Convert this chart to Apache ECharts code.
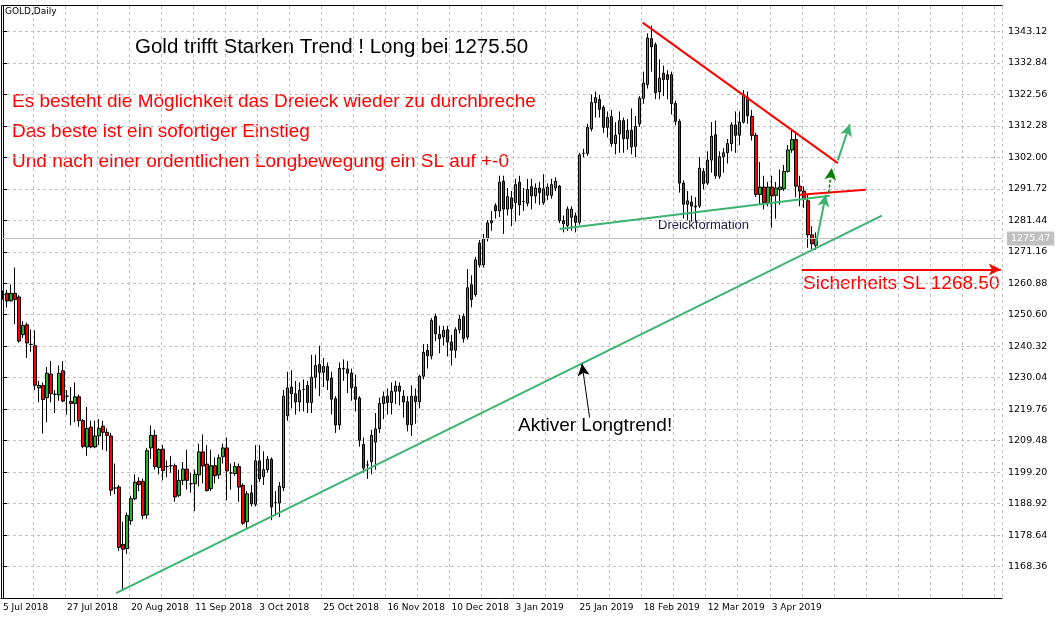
<!DOCTYPE html>
<html>
<head>
<meta charset="utf-8">
<script src="https://cdn.jsdelivr.net/npm/echarts@6/dist/echarts.min.js"></script>
<style>
  html, body { margin: 0; padding: 0; background: #fff; }
  #chart { width: 1057px; height: 622px; }
</style>
</head>
<body>
<div id="chart"></div>
<script>
// daily candles, [open, close, low, high]
const candles = [
  [1257.2,1257.2,1255.5,1258.5],[1257.6,1255.1,1253.0,1258.8],[1255.1,1257.6,1255.0,1260.5],[1257.6,1255.6,1247.5,1266.0],
  [1256.4,1242.0,1241.5,1257.0],[1244.1,1247.1,1243.0,1248.5],[1247.3,1241.4,1236.5,1248.0],[1240.9,1240.9,1238.5,1245.8],
  [1240.5,1227.6,1226.0,1245.5],[1226.7,1227.5,1222.0,1229.0],[1227.5,1222.9,1211.8,1228.5],[1223.5,1231.5,1215.5,1233.5],
  [1231.2,1224.8,1222.0,1235.5],[1224.6,1224.6,1218.5,1226.0],[1224.4,1231.5,1222.5,1234.0],[1232.3,1222.4,1222.0,1235.5],
  [1224.0,1224.0,1218.0,1226.0],[1222.3,1221.6,1214.5,1227.0],[1221.6,1223.8,1215.5,1228.5],[1223.8,1216.0,1214.0,1224.5],
  [1216.0,1207.6,1207.0,1216.5],[1207.4,1213.5,1204.5,1220.5],[1213.9,1207.4,1207.0,1216.0],[1207.4,1211.0,1207.0,1216.0],
  [1211.0,1213.5,1208.0,1216.5],[1214.2,1212.2,1206.5,1216.0],[1212.2,1211.2,1206.0,1213.5],[1211.0,1193.3,1191.5,1212.0],
  [1194.0,1194.0,1192.0,1202.0],[1194.3,1174.6,1173.5,1195.0],[1175.6,1174.0,1160.5,1183.0],[1174.2,1185.0,1172.5,1186.0],
  [1183.3,1190.5,1182.0,1191.5],[1190.5,1195.9,1190.0,1198.5],[1196.2,1195.1,1193.0,1197.5],[1196.2,1185.0,1183.8,1197.0],
  [1185.2,1206.2,1184.0,1207.0],[1207.1,1211.2,1203.5,1214.5],[1211.2,1201.0,1200.0,1213.0],[1200.7,1206.6,1198.5,1207.0],
  [1206.7,1199.7,1196.5,1208.0],[1201.0,1201.0,1197.5,1203.0],[1201.3,1201.3,1199.0,1204.5],[1201.3,1191.1,1189.5,1202.0],
  [1191.6,1196.5,1191.0,1200.0],[1196.5,1200.2,1195.0,1202.5],[1200.2,1196.5,1193.5,1206.5],[1195.4,1195.4,1192.5,1199.0],
  [1195.4,1198.5,1186.5,1200.0],[1198.3,1205.8,1194.5,1208.5],[1205.8,1201.2,1195.5,1211.5],[1201.8,1193.2,1192.8,1208.0],
  [1193.8,1201.3,1193.0,1206.5],[1201.3,1198.0,1195.5,1204.0],[1198.3,1203.9,1197.0,1205.0],[1204.2,1207.1,1202.0,1208.5],
  [1207.1,1199.6,1190.0,1210.5],[1198.9,1198.9,1193.5,1202.0],[1198.7,1201.0,1198.0,1202.5],[1201.0,1194.3,1189.5,1202.0],
  [1194.9,1182.5,1182.0,1195.5],[1183.0,1192.1,1181.0,1193.0],[1192.4,1188.9,1188.0,1195.0],[1188.7,1202.9,1188.0,1208.0],
  [1202.9,1197.0,1196.0,1208.0],[1197.7,1200.0,1195.0,1206.0],[1200.0,1203.4,1199.0,1204.5],[1203.4,1187.8,1183.5,1204.0],
  [1189.2,1189.2,1185.0,1193.0],[1189.1,1194.6,1184.5,1196.0],
  [1194.1,1224.0,1193.0,1226.0],[1217.6,1226.7,1216.0,1232.0],[1227.0,1224.8,1220.0,1232.5],[1224.8,1222.1,1218.0,1229.0],
  [1222.1,1225.9,1219.0,1228.5],[1226.2,1226.2,1219.0,1229.5],[1227.5,1221.9,1218.5,1229.0],[1221.9,1230.2,1218.5,1237.5],
  [1230.2,1234.0,1226.5,1237.5],[1234.4,1231.8,1224.0,1240.5],[1231.8,1233.7,1227.0,1236.5],[1233.7,1229.2,1226.0,1235.0],
  [1229.9,1223.0,1218.0,1232.0],[1223.2,1214.6,1212.0,1224.0],[1214.6,1233.1,1213.0,1235.0],[1233.1,1232.9,1229.0,1236.0],
  [1232.9,1231.5,1225.0,1235.5],[1231.5,1226.7,1222.5,1233.0],[1227.0,1223.0,1219.0,1231.0],[1223.4,1209.6,1207.5,1224.0],
  [1208.2,1200.5,1199.0,1210.5],[1201.5,1201.5,1197.0,1203.0],[1202.6,1211.2,1198.5,1213.0],[1209.0,1213.3,1200.0,1218.5],
  [1213.3,1221.6,1212.0,1223.5],[1221.6,1223.8,1216.5,1225.5],[1224.0,1221.9,1218.0,1226.5],[1221.9,1225.6,1218.0,1228.5],
  [1225.6,1227.3,1221.5,1229.0],[1227.3,1225.6,1221.0,1228.5],[1224.0,1222.1,1217.0,1226.0],[1222.2,1214.7,1212.5,1224.0],
  [1214.7,1224.0,1211.0,1227.5],[1224.0,1222.2,1215.0,1226.5],[1222.2,1230.5,1220.0,1231.0],[1230.5,1238.3,1229.5,1241.0],
  [1239.0,1237.2,1233.0,1241.0],[1237.2,1248.7,1236.0,1249.5],[1250.0,1244.4,1242.0,1251.0],[1244.2,1242.8,1238.0,1247.0],
  [1243.3,1245.5,1240.5,1247.0],[1245.7,1241.7,1237.0,1247.0],[1241.7,1239.0,1234.0,1244.0],[1239.0,1245.7,1236.5,1246.5],
  [1245.7,1249.2,1244.5,1250.5],[1250.0,1242.8,1241.5,1251.0],[1243.3,1259.4,1242.5,1265.5],[1260.4,1255.6,1253.0,1263.5],
  [1257.2,1268.5,1256.5,1269.5],[1274.0,1266.9,1266.0,1275.0],[1266.9,1275.4,1266.0,1277.0],[1275.4,1280.6,1274.5,1281.5],
  [1280.6,1281.3,1278.0,1284.5],[1286.2,1284.5,1282.0,1287.0],[1284.5,1293.9,1282.5,1296.0],[1294.2,1285.1,1277.0,1296.0],
  [1285.1,1289.2,1283.0,1292.0],[1288.8,1285.3,1279.5,1291.0],[1287.2,1293.1,1281.0,1295.0],[1293.9,1286.5,1283.0,1296.0],
  [1287.6,1287.6,1284.5,1292.0],[1287.0,1291.5,1286.0,1295.0],[1292.4,1289.4,1285.0,1295.0],[1289.4,1292.0,1287.0,1293.5],
  [1292.0,1290.5,1286.5,1294.0],
  [1287.2,1291.7,1286.5,1296.5],[1289.6,1292.3,1288.0,1293.5],[1289.6,1293.1,1288.5,1295.0],[1292.0,1294.2,1291.0,1295.5],
  [1292.6,1281.3,1280.5,1293.0],[1281.3,1280.3,1277.5,1283.0],[1279.7,1285.1,1278.0,1286.0],[1282.4,1285.1,1278.0,1286.0],
  [1282.9,1280.8,1277.5,1284.0],[1280.8,1302.8,1280.0,1303.5],[1303.3,1303.3,1302.0,1304.8],[1303.3,1311.8,1302.5,1313.0],
  [1311.3,1319.9,1310.5,1322.5],[1319.9,1321.5,1315.0,1323.5],[1320.9,1317.7,1315.0,1322.5],[1318.3,1311.8,1310.0,1319.0],
  [1311.8,1315.0,1308.5,1317.0],[1315.3,1306.5,1305.5,1317.5],[1306.5,1309.2,1303.0,1313.5],[1309.7,1314.0,1303.5,1317.0],
  [1314.0,1308.1,1303.5,1315.0],[1308.1,1310.8,1304.5,1314.5],[1310.8,1305.4,1303.0,1318.0],[1305.6,1312.1,1302.0,1315.5],
  [1312.9,1321.3,1312.0,1322.0],[1321.3,1326.3,1319.5,1330.0],[1325.8,1341.0,1324.5,1342.5],[1340.8,1338.1,1330.0,1345.0],
  [1338.8,1323.1,1321.0,1339.5],[1323.4,1327.9,1321.0,1334.0],[1329.5,1327.4,1322.0,1332.0],[1329.0,1327.4,1321.0,1330.5],
  [1329.0,1319.6,1316.0,1330.0],[1319.6,1313.8,1312.5,1320.5],[1313.8,1293.6,1290.5,1314.5],[1293.6,1286.7,1282.0,1294.5],
  [1286.7,1287.8,1281.5,1291.0],[1287.4,1286.1,1281.0,1289.5],[1286.1,1285.8,1281.0,1289.0],[1286.1,1298.5,1285.5,1302.0],
  [1297.4,1293.4,1291.5,1298.5],[1293.6,1301.1,1293.0,1304.0],[1301.1,1308.9,1297.0,1313.5],[1309.4,1296.0,1295.0,1314.0],
  [1295.8,1302.2,1295.0,1304.0],[1302.2,1303.5,1297.0,1305.0],[1303.5,1306.5,1300.0,1308.0],[1306.5,1312.6,1304.0,1313.5],
  [1312.6,1309.2,1303.5,1317.0],[1309.2,1313.5,1306.0,1317.0],[1313.5,1322.5,1313.0,1324.0],[1321.7,1315.6,1313.0,1323.5],
  [1315.4,1309.2,1307.5,1317.5],[1309.2,1289.9,1289.0,1310.0],[1289.9,1292.3,1286.5,1300.5],[1292.3,1287.2,1285.0,1296.0],
  [1287.2,1292.3,1286.0,1294.0],[1292.3,1289.4,1279.0,1296.0],[1289.6,1292.0,1282.0,1294.0],[1291.5,1292.3,1286.5,1298.0],
  [1291.7,1297.4,1291.0,1299.5],[1297.4,1304.4,1297.0,1306.0],[1304.4,1307.8,1303.5,1311.0],[1307.8,1292.6,1289.0,1310.5],
  [1292.6,1291.0,1286.0,1296.0],[1291.0,1288.3,1285.5,1292.5],[1287.8,1276.7,1272.5,1290.0],[1276.7,1273.8,1272.0,1279.5],
  [1273.3,1275.47,1271.8,1277.5]
];

const tickLabels = ['5 Jul 2018', '27 Jul 2018', '20 Aug 2018', '11 Sep 2018', '3 Oct 2018', '25 Oct 2018',
  '16 Nov 2018', '10 Dec 2018', '3 Jan 2019', '25 Jan 2019', '18 Feb 2019', '12 Mar 2019', '3 Apr 2019'];
const labelEvery = 16;
const slotCount = 250;
const lastPrice = 1275.47;
const slPrice = 1265.4;

// drawn lines, [[bar index, price], [bar index, price]]
const longTrend = [[28.25, 1159.7], [219.5, 1283.0]];
const triangleLow = [[139, 1278.6], [206.5, 1289.5]];
const triangleHigh = [[159.75, 1346.0], [208.5, 1300.1]];
const breakLine = [[199, 1289.8], [215.5, 1291.4]];
const arrowUp1 = [[203, 1273.5], [205.5, 1289.8]];
const arrowUp2 = [[206.2, 1290.5], [207, 1298.5]];
const arrowUp3 = [[208.5, 1301.0], [211.5, 1312.8]];
const slArrow = [[199.5, slPrice], [249.2, slPrice]];
const noteArrow = [[146.5, 1217.0], [144.6, 1234.6]];

const categories = []
for (let i = 0; i < slotCount; i++) categories.push(String(i))

const seg = (pts, color, width, arrow, type) => [
  { coord: pts[0], symbol: 'none', lineStyle: { color, width, type: type || 'solid' } },
  { coord: pts[1], symbol: arrow ? 'arrow' : 'none', symbolSize: arrow ? [9, 12] : 0 }
]

const green = '#3cb371'
const font = 'Liberation Sans'

const chart = echarts.init(document.getElementById('chart'))
chart.setOption({
  animation: false,
  backgroundColor: '#fff',
  grid: { left: 1, right: 55, top: -6, bottom: 24 },
  xAxis: [{
    type: 'category',
    data: categories,
    boundaryGap: true,
    axisLine: { lineStyle: { color: '#000' } },
    axisTick: { show: false },
    axisLabel: {
      interval: (i) => i % labelEvery === 0 && i / labelEvery < tickLabels.length,
      formatter: (v, i) => tickLabels[i / labelEvery] || '',
      align: 'left', margin: 5, fontSize: 9, color: '#000', fontFamily: 'DejaVu Sans'
    },
    splitLine: { show: true, interval: (i) => i % 8 === 0, lineStyle: { color: '#c0c0c0', type: [3, 3] } }
  }, {
    type: 'value', min: -0.5, max: slotCount - 0.5, show: false
  }],
  yAxis: {
    type: 'value', position: 'right', scale: true,
    min: 1158.08, max: 1353.4, interval: 10.28,
    axisLine: { show: true, lineStyle: { color: '#000' } },
    axisTick: { show: true, length: 4, lineStyle: { color: '#000' } },
    axisLabel: {
      showMinLabel: false, showMaxLabel: false, margin: 6,
      formatter: (v) => v.toFixed(2), fontSize: 9.5, color: '#000', fontFamily: 'DejaVu Sans'
    },
    splitLine: { lineStyle: { color: '#c0c0c0', type: [3, 3] } }
  },
  series: [{
    type: 'candlestick',
    data: candles,
    barWidth: 3,
    itemStyle: { color: '#22b822', color0: '#ff0000', borderColor: '#000', borderColor0: '#000', borderWidth: 1 },
    markLine: {
      silent: true, symbol: 'none',
      label: { show: true, position: 'end', formatter: lastPrice.toFixed(2), color: '#fff',
        backgroundColor: '#c0c0c0', padding: [2, 4], fontSize: 9.5, fontFamily: 'DejaVu Sans' },
      lineStyle: { color: '#c0c0c0', width: 1, type: 'solid' },
      data: [{ yAxis: lastPrice }]
    }
  }, {
    type: 'line', xAxisIndex: 1, data: [], silent: true,
    markLine: {
      silent: true, animation: false,
      label: { show: false },
      data: [
        seg(longTrend, green, 2),
        seg(triangleLow, green, 2),
        seg(triangleHigh, '#ff0000', 2),
        seg(breakLine, '#ff0000', 2),
        seg(arrowUp1, green, 2, true),
        seg(arrowUp2, '#008000', 1.5, true, [3, 2]),
        seg(arrowUp3, green, 2, true),
        seg(slArrow, '#ff0000', 2, true),
        seg(noteArrow, '#000', 1, true)
      ]
    }
  }],
  graphic: [
    { type: 'rect', shape: { x: 0, y: 0, width: 1003, height: 5 }, style: { fill: '#fff' }, z: 100 },
    { type: 'polyline', shape: { points: [[1.5, 598], [1.5, 5.5], [1002.5, 5.5]] }, style: { stroke: '#000', fill: null, lineWidth: 1 }, z: 101 },
    { type: 'text', left: 5, top: 7, style: { text: 'GOLD,Daily', font: '9px "DejaVu Sans"', fill: '#000' }, z: 101 },
    { type: 'text', left: 135, top: 37, style: { text: 'Gold trifft Starken Trend ! Long bei 1275.50', font: '20.5px "' + font + '"', fill: '#000' } },
    { type: 'text', left: 12, top: 92, style: { text: 'Es besteht die Möglichkeit das Dreieck wieder zu durchbreche', font: '19px "' + font + '"', fill: '#ff0000' } },
    { type: 'text', left: 12, top: 122, style: { text: 'Das beste ist ein sofortiger Einstieg', font: '19px "' + font + '"', fill: '#ff0000' } },
    { type: 'text', left: 12, top: 152, style: { text: 'Und nach einer ordentlichen Longbewegung ein SL auf +-0', font: '19px "' + font + '"', fill: '#ff0000' } },
    { type: 'text', left: 658, top: 219, style: { text: 'Dreickformation', font: '13px "' + font + '"', fill: '#1a1a40' } },
    { type: 'text', left: 518, top: 416, style: { text: 'Aktiver Longtrend!', font: '19px "' + font + '"', fill: '#000' } },
    { type: 'text', left: 803, top: 274, style: { text: 'Sicherheits SL 1268.50', font: '19px "' + font + '"', fill: '#ff0000' } }
  ]
})
</script>
</body>
</html>
